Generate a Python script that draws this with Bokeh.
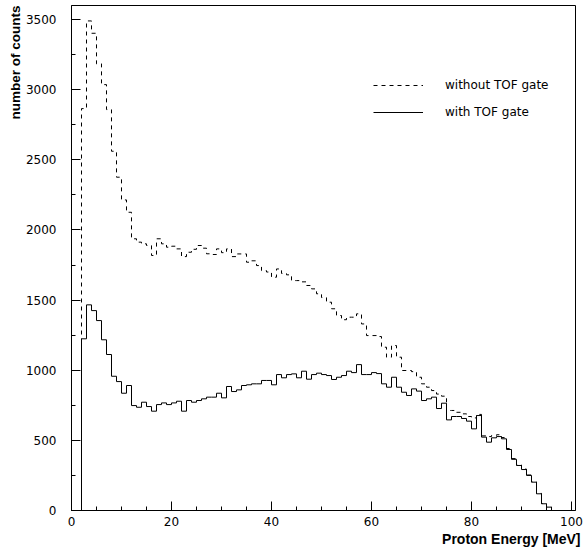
import math
from bokeh.plotting import figure
from bokeh.models import Range1d, SingleIntervalTicker, Legend, LegendItem, Title
from bokeh.embed import file_html
from bokeh.resources import INLINE

# Lower edges of the 1 MeV energy bins (MeV)
bin_low = [2, 3, 4, 5, 6, 7, 8, 9, 10, 11,
           12, 13, 14, 15, 16, 17, 18, 19, 20, 21,
           22, 23, 24, 25, 26, 27, 28, 29, 30, 31,
           32, 33, 34, 35, 36, 37, 38, 39, 40, 41,
           42, 43, 44, 45, 46, 47, 48, 49, 50, 51,
           52, 53, 54, 55, 56, 57, 58, 59, 60, 61,
           62, 63, 64, 65, 66, 67, 68, 69, 70, 71,
           72, 73, 74, 75, 76, 77, 78, 79, 80, 81,
           82, 83, 84, 85, 86, 87, 88, 89, 90, 91,
           92, 93, 94, 95]
bin_width = 1

# Counts with TOF gate (solid)
with_tof = [1224, 1466, 1425, 1354, 1217, 1112, 957, 919, 836, 891,
            748, 736, 772, 741, 708, 755, 767, 755, 767, 779,
            708, 784, 772, 784, 796, 808, 808, 836, 803, 884,
            848, 860, 891, 896, 903, 903, 927, 927, 896, 969,
            946, 969, 974, 946, 993, 936, 969, 979, 969, 962,
            934, 950, 962, 993, 983, 1040, 969, 969, 983, 976,
            903, 879, 950, 879, 843, 820, 867, 851, 784, 796,
            808, 727, 765, 646, 670, 670, 656, 637, 582, 677,
            523, 487, 518, 527, 511, 435, 365, 321, 292, 250,
            202, 119, 48, 24]

# Counts without TOF gate (dashed)
without_tof = [2865, 3490, 3402, 3184, 3036, 2858, 2561, 2376, 2214, 2126,
               1937, 1913, 1901, 1889, 1818, 1937, 1901, 1877, 1884, 1865,
               1810, 1841, 1862, 1889, 1870, 1830, 1825, 1865, 1838, 1865,
               1810, 1829, 1829, 1770, 1780, 1746, 1710, 1700, 1663, 1722,
               1690, 1680, 1639, 1639, 1630, 1604, 1580, 1545, 1518, 1485,
               1438, 1390, 1360, 1378, 1378, 1402, 1330, 1247, 1247, 1240,
               1164, 1093, 1176, 1093, 998, 998, 990, 950, 903, 879,
               855, 830, 815, 713, 713, 700, 689, 670, 660, 685,
               532, 527, 535, 540, 520, 442, 370, 325, 295, 253,
               205, 122, 50, 25]

series_labels = ["without TOF gate", "with TOF gate"]
x_title = "Proton Energy [MeV]"
y_title = "number of counts"


def outline(lows, counts):
    xs = [lows[0]] + list(lows) + [lows[-1] + bin_width]
    ys = [0] + list(counts) + [0]
    return xs, ys


p = figure(width=587, height=548, output_backend="svg", toolbar_location=None,
           x_range=Range1d(0, 100.8), y_range=Range1d(0, 3600),
           min_border_left=71, min_border_right=12, min_border_top=5,
           min_border_bottom=38)
p.background_fill_color = "white"
p.border_fill_color = "white"
p.grid.visible = False
p.outline_line_color = "black"
p.outline_line_width = 1

p.xaxis.ticker = SingleIntervalTicker(interval=20, num_minor_ticks=4)
p.yaxis.ticker = SingleIntervalTicker(interval=500, num_minor_ticks=2)
for ax in (p.xaxis[0], p.yaxis[0]):
    ax.major_tick_in = 9
    ax.major_tick_out = 0
    ax.minor_tick_in = 4
    ax.minor_tick_out = 0
    ax.axis_line_color = "black"
    ax.major_tick_line_color = "black"
    ax.minor_tick_line_color = "black"
    ax.major_label_text_font = "DejaVu Sans"
    ax.major_label_text_font_size = "12px"
    ax.major_label_text_color = "black"
p.xaxis.major_label_standoff = 6
p.yaxis.major_label_standoff = 15

xd, yd = outline(bin_low, without_tof)
r1 = p.step(xd, yd, mode="after", line_color="black", line_width=1, line_dash="4 4")
xs, ys = outline(bin_low, with_tof)
r2 = p.step(xs, ys, mode="after", line_color="black", line_width=1)

legend = Legend(items=[LegendItem(label=series_labels[0], renderers=[r1]),
                       LegendItem(label=series_labels[1], renderers=[r2])],
                location=(302, 388), glyph_width=50, glyph_height=20,
                label_height=20, spacing=7, label_standoff=22, padding=0, margin=0,
                border_line_alpha=0, background_fill_alpha=0,
                label_text_font="DejaVu Sans", label_text_font_size="12px",
                label_text_color="black")
p.add_layout(legend)

p.add_layout(Title(text=y_title, align="right", text_font="Liberation Sans",
                   text_font_style="bold", text_font_size="13.5px",
                   text_color="black", standoff=0, offset=0), "left")
p.add_layout(Title(text=x_title, align="right", text_font="Liberation Sans",
                   text_font_style="bold", text_font_size="14px",
                   text_color="black", standoff=0, offset=-5), "below")

open("out.html", "w").write(file_html(p, INLINE))
